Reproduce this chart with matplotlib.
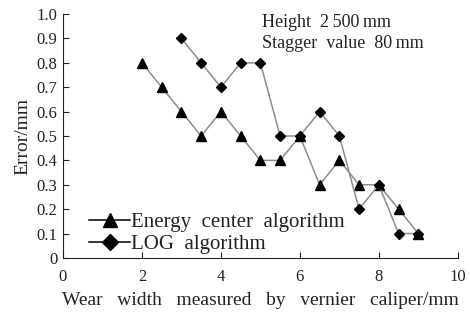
import matplotlib
matplotlib.use("Agg")
import matplotlib.pyplot as plt

plt.rcParams['font.family'] = ['Liberation Serif', 'DejaVu Serif']

# Energy center algorithm
energy_x = [2, 2.5, 3, 3.5, 4, 4.5, 5, 5.5, 6, 6.5, 7, 7.5, 8, 8.5, 9]
energy_y = [0.8, 0.7, 0.6, 0.5, 0.6, 0.5, 0.4, 0.4, 0.5, 0.3, 0.4, 0.3, 0.3, 0.2, 0.1]

# LOG algorithm
log_x = [3, 3.5, 4, 4.5, 5, 5.5, 6, 6.5, 7, 7.5, 8, 8.5, 9]
log_y = [0.9, 0.8, 0.7, 0.8, 0.8, 0.5, 0.5, 0.6, 0.5, 0.2, 0.3, 0.1, 0.1]

fig = plt.figure(figsize=(4.7, 3.13), dpi=100)
ax = fig.add_axes([0.134, 0.176, 0.84, 0.779])

ax.plot(energy_x, energy_y, color='#8c8c8c', lw=1.1, marker='^', ms=7,
        mfc='black', mec='black', label='Energy  center  algorithm', zorder=3)
ax.plot(log_x, log_y, color='#8c8c8c', lw=1.1, marker='D', ms=5.5,
        mfc='black', mec='black', label='LOG  algorithm', zorder=3)

ax.set_xlim(0, 10)
ax.set_ylim(0, 1.0)
ax.set_xticks([0, 2, 4, 6, 8, 10])
ax.set_yticks([0, 0.1, 0.2, 0.3, 0.4, 0.5, 0.6, 0.7, 0.8, 0.9, 1.0])
ax.set_yticklabels(['0', '0.1', '0.2', '0.3', '0.4', '0.5', '0.6', '0.7', '0.8', '0.9', '1.0'])
ax.tick_params(direction='in', length=4, labelsize=12, colors='#222222')
ax.tick_params(axis='x', pad=8)
ax.tick_params(axis='y', pad=4)
ax.spines['top'].set_visible(False)
ax.spines['right'].set_visible(False)
for s in ['left', 'bottom']:
    ax.spines[s].set_color('#222222')

ax.set_xlabel('Wear   width   measured   by   vernier   caliper/mm', fontsize=14,
              labelpad=5, color='#222222')
ax.set_ylabel('Error/mm', fontsize=14, labelpad=4, color='#222222')

ax.text(5.05, 0.945, 'Height  2\u2009500\u2009mm', fontsize=13, va='baseline',
        color='#222222')
ax.text(5.05, 0.862, 'Stagger  value  80\u2009mm', fontsize=13, va='baseline',
        color='#222222')

leg = ax.legend(loc='upper left', bbox_to_anchor=(0.04, 0.23), frameon=False,
                fontsize=15, handlelength=1.95, handletextpad=0.05,
                borderpad=0.0, labelspacing=0.12, markerscale=1.5)
for h in leg.legend_handles:
    h.set_color('black')
for t in leg.get_texts():
    t.set_color('#222222')

fig.savefig('out.png', dpi=100)
